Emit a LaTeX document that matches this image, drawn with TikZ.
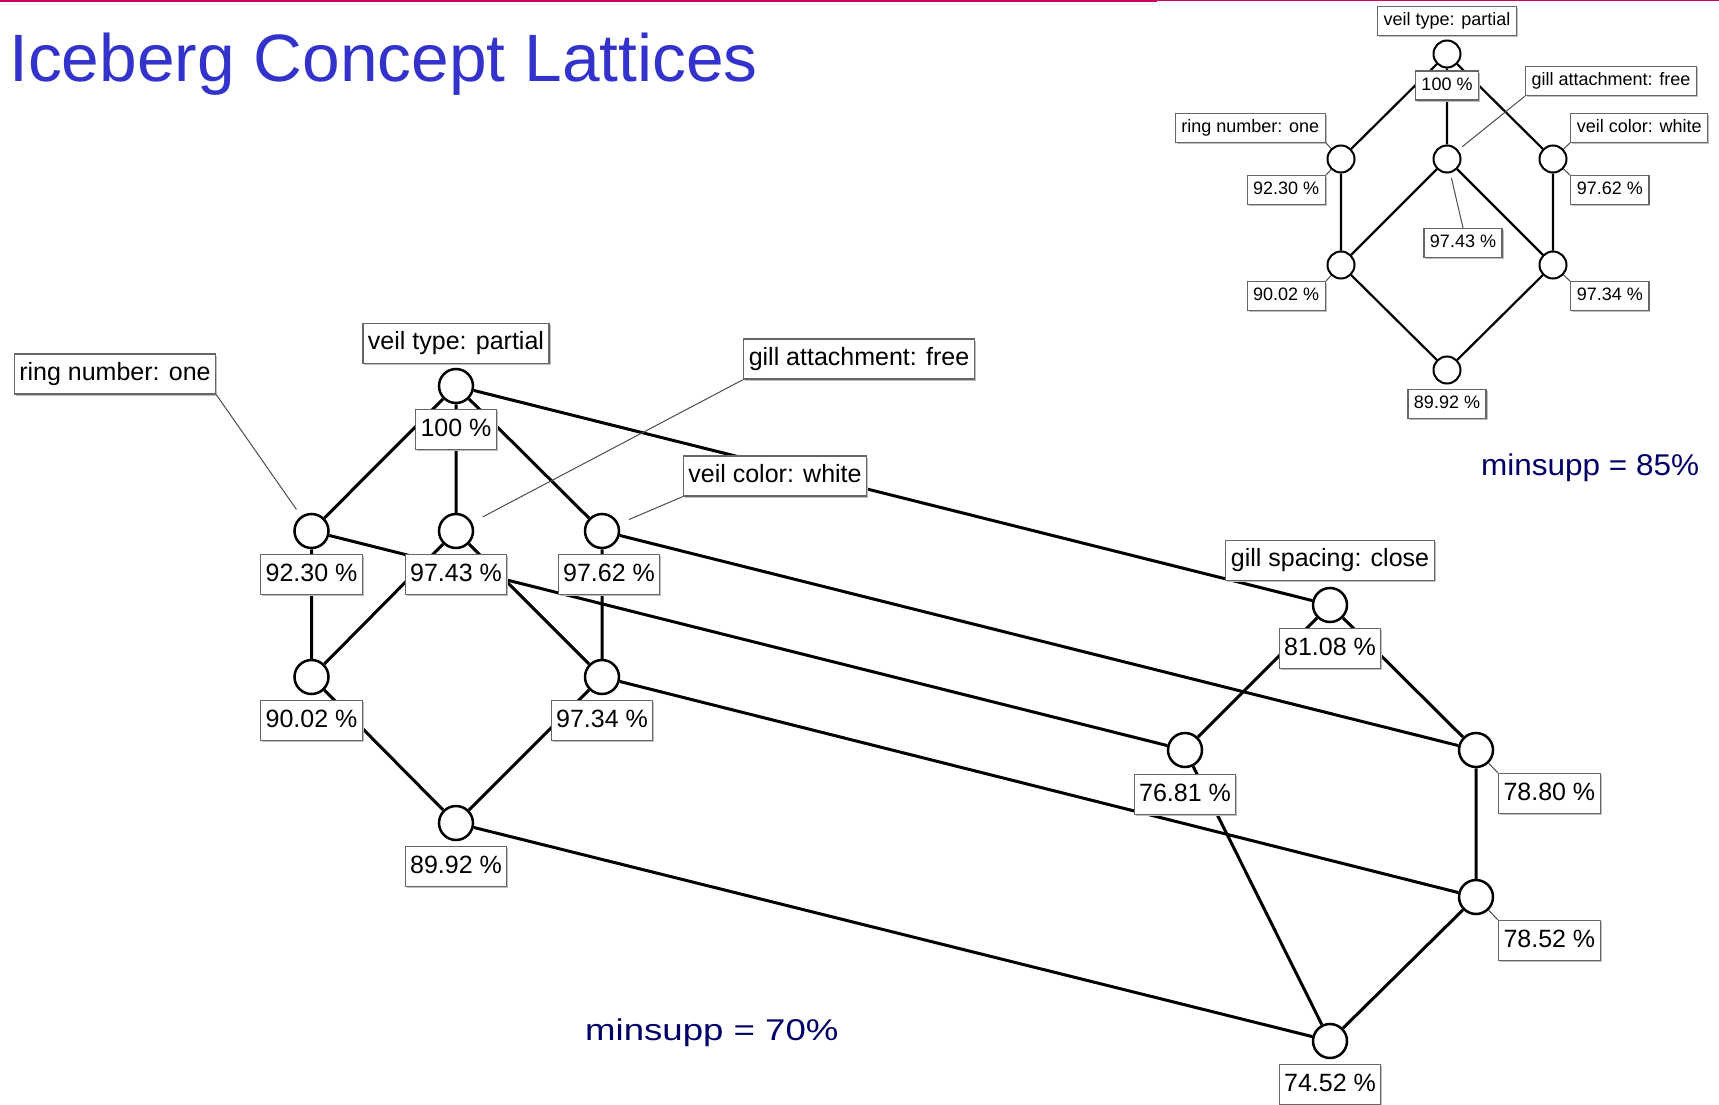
\documentclass[tikz,border=0pt]{standalone}
\usepackage{graphicx}
\usepackage{fontspec}
\setmainfont{Liberation Sans}
\usetikzlibrary{positioning,shadows}
\definecolor{titleblue}{HTML}{3333CC}
\definecolor{minnavy}{HTML}{000066}
\definecolor{slidepink}{HTML}{CC0066}
\tikzset{concept/.style={circle,draw,fill=white,minimum size=34pt,inner sep=0pt,line width=2.5pt},
  small concept/.style={circle,draw,fill=white,minimum size=27pt,inner sep=0pt,line width=2pt},
  tagbox/.style={draw=black!60,fill=white,line width=1.2pt,inner xsep=5pt,inner ysep=0pt,
    minimum height=40pt,text height=18pt,text depth=5pt,font=\fontsize{25}{30}\selectfont,
    drop shadow={shadow xshift=1.5pt,shadow yshift=-1.5pt,fill=black!25,opacity=1}},
  small tagbox/.style={tagbox,inner xsep=6pt,minimum height=29pt,text height=13pt,text depth=4pt,
    font=\fontsize{18}{22}\selectfont},
  link/.style={line width=3pt},
  small link/.style={line width=2.2pt},
  leader/.style={draw=black!70,line width=1pt}}

\begin{document}
\begin{tikzpicture}[x=1pt,y=-1pt]
    \useasboundingbox (0,0) rectangle (1719,1105);
    \draw[slidepink,line width=2.5pt] (0,1.25) -- (1157,1.25);
    \draw[slidepink,line width=1.2pt] (1157,0.6) -- (1719,0.6);
    \node[anchor=base west,inner sep=0pt,text=titleblue,font=\fontsize{67}{71}\selectfont] (title) at (9,82) {\scalebox{1.01}[1]{Iceberg Concept Lattices}};

    % minsupp = 70%
    \node[concept] (T) at (456,386) {};
    \node[concept] (A) at (311.5,531) {};
    \node[concept] (B) at (456,531) {};
    \node[concept] (C) at (602,531) {};
    \node[concept] (D) at (311.5,677) {};
    \node[concept] (E) at (602,677) {};
    \node[concept] (F) at (456,823) {};
    \node[concept] (G) at (1330,605) {};
    \node[concept] (H) at (1185,750) {};
    \node[concept] (I) at (1476,750) {};
    \node[concept] (J) at (1476,897) {};
    \node[concept] (K) at (1330,1041) {};

    \draw[link] (T) -- (A) (T) -- (B) (T) -- (C)
        (A) -- (D) (B) -- (D) (B) -- (E) (C) -- (E)
        (D) -- (F) (E) -- (F);
    \draw[link] (G) -- (H) (G) -- (I) (H) -- (K) (I) -- (J) (J) -- (K);
    \draw[link] (T) -- (G) (A) -- (H) (C) -- (I) (E) -- (J) (F) -- (K);

    \node[tagbox,above=4pt of T] (vtp) {veil type: partial};
    \node[tagbox] (rno) at (115,374) {ring number: one};
    \node[tagbox] (gaf) at (859,359) {gill attachment: free};
    \node[tagbox] (vcw) at (775,476) {veil color: white};
    \node[tagbox,above=6pt of G] (gsc) {gill spacing: close};
    \node[tagbox,below=5pt of T] (p100) {100 \%};
    \node[tagbox,below=5pt of A] (p9230) {92.30 \%};
    \node[tagbox,below=5pt of B] (p9743) {97.43 \%};
    \node[tagbox,below=5pt of C,xshift=7pt] (p9762) {97.62 \%};
    \node[tagbox,below=5pt of D] (p9002) {90.02 \%};
    \node[tagbox,below=5pt of E] (p9734) {97.34 \%};
    \node[tagbox,below=5pt of F] (p8992) {89.92 \%};
    \node[tagbox,below=5pt of G] (p8108) {81.08 \%};
    \node[tagbox,below=6pt of H] (p7681) {76.81 \%};
    \node[tagbox,below right=10pt and 9pt of I] (p7880) {78.80 \%};
    \node[tagbox,below right=10pt and 9pt of J] (p7852) {78.52 \%};
    \node[tagbox,below=5pt of K] (p7452) {74.52 \%};

    \draw[leader,shorten >=8pt] (rno.south east) -- (A);
    \draw[leader,shorten >=12pt] (gaf.south west) -- (B);
    \draw[leader,shorten >=11pt] (vcw.south west) -- (C);
    \draw[leader] (I) -- (p7880.north west);
    \draw[leader] (J) -- (p7852.north west);

    \node[anchor=base west,inner sep=0pt,text=minnavy,font=\fontsize{30}{34}\selectfont] (ms70) at (585,1040) {\scalebox{1.22}[1]{minsupp = 70\%}};

    % minsupp = 85%
    \node[small concept] (t) at (1447,54) {};
    \node[small concept] (a) at (1341,159) {};
    \node[small concept] (b) at (1447,159) {};
    \node[small concept] (c) at (1553,159) {};
    \node[small concept] (d) at (1341,265) {};
    \node[small concept] (e) at (1553,265) {};
    \node[small concept] (f) at (1447,370) {};

    \draw[small link] (t) -- (a) (t) -- (b) (t) -- (c)
        (a) -- (d) (b) -- (d) (b) -- (e) (c) -- (e)
        (d) -- (f) (e) -- (f);

    \node[small tagbox,above=3pt of t] (svtp) {veil type: partial};
    \node[small tagbox,below=2pt of t] (sp100) {100 \%};
    \node[small tagbox,above left=6pt and 5pt of a] (srno) {ring number: one};
    \node[small tagbox] (sgaf) at (1611,81) {gill attachment: free};
    \node[small tagbox,above right=6pt and 7pt of c] (svcw) {veil color: white};
    \node[small tagbox,below left=6pt and 5pt of a] (sp9230) {92.30 \%};
    \node[small tagbox] (sp9743) at (1463,243) {97.43 \%};
    \node[small tagbox,below right=6pt and 7pt of c] (sp9762) {97.62 \%};
    \node[small tagbox,below left=6pt and 5pt of d] (sp9002) {90.02 \%};
    \node[small tagbox,below right=6pt and 7pt of e] (sp9734) {97.34 \%};
    \node[small tagbox,below=4pt of f] (sp8992) {89.92 \%};

    \draw[leader] (srno.south east) -- (a) (svcw.south west) -- (c)
        (sp9230.north east) -- (a) (sp9762.north west) -- (c)
        (sp9002.north east) -- (d) (sp9734.north west) -- (e);
    \draw[leader,shorten >=5pt] (sgaf.south west) -- (b);
    \draw[leader,shorten >=5pt] (sp9743.north) -- (b);

    \node[anchor=base west,inner sep=0pt,text=minnavy,font=\fontsize{30}{34}\selectfont] (ms85) at (1481,475) {\scalebox{1.05}[1]{minsupp = 85\%}};
\end{tikzpicture}
\end{document}
